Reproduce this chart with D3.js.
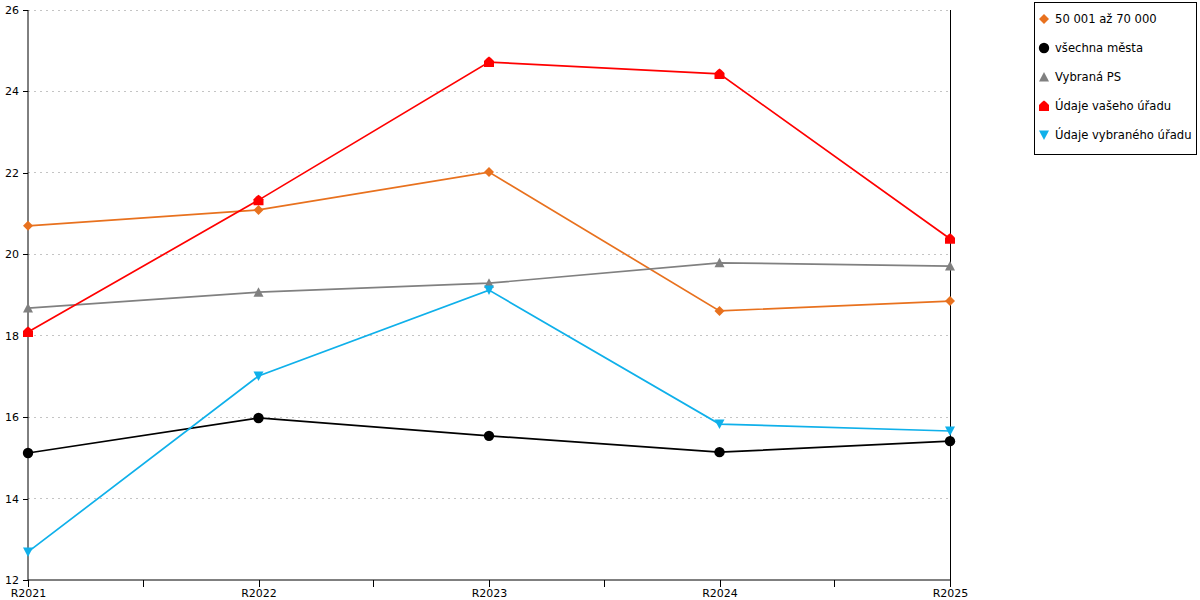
<!DOCTYPE html>
<html>
<head>
<meta charset="utf-8">
<script src="https://d3js.org/d3.v7.min.js"></script>
<style>
  body { margin: 0; background: #fff; }
  text { font-family: "DejaVu Sans", Verdana, sans-serif; }
</style>
</head>
<body>
<script>
// chart data
var years = ["R2021", "R2022", "R2023", "R2024", "R2025"];
var seriesNames = ["50 001 až 70 000", "všechna města", "Vybraná PS", "Údaje vašeho úřadu", "Údaje vybraného úřadu"];
var vals5070 = [20.7, 21.09, 22.02, 18.61, 18.85];
var valsAll = [15.12, 15.98, 15.54, 15.14, 15.41];
var valsPS = [18.68, 19.07, 19.29, 19.79, 19.71];
var valsYours = [18.09, 21.33, 24.72, 24.43, 20.38];
var valsSelected = [12.69, 17.01, 19.12, 15.83, 15.66];
var yTicks = [12, 14, 16, 18, 20, 22, 24, 26];

var colors = ["#e8711e", "#000000", "#808080", "#ff0000", "#0fb0ea"];
var markers = ["diamond", "circle", "up", "house", "down"];
var allVals = [vals5070, valsAll, valsPS, valsYours, valsSelected];

var w = 1200, h = 600;
var pLeft = 28, pRight = 950, pTop = 10, pBottom = 580;

var svg = d3.select("body").append("svg").attr("width", w).attr("height", h);

var x = d3.scalePoint().domain(years).range([pLeft, pRight]);
var y = d3.scaleLinear().domain([12, 26]).range([pBottom, pTop]);

// grid lines
svg.append("g").selectAll("line").data(yTicks.slice(1)).enter().append("line")
  .attr("x1", pLeft).attr("x2", pRight)
  .attr("y1", function(d) { return y(d); }).attr("y2", function(d) { return y(d); })
  .attr("stroke", "#c4c4c4").attr("stroke-dasharray", "2,4").attr("shape-rendering", "crispEdges");

// right border line
svg.append("line").attr("x1", pRight).attr("x2", pRight).attr("y1", pTop).attr("y2", pBottom)
  .attr("stroke", "#000").attr("shape-rendering", "crispEdges");

// y axis
var yAxis = svg.append("g").attr("transform", "translate(" + pLeft + ",0)")
  .call(d3.axisLeft(y).tickValues(yTicks).tickSize(5).tickPadding(4).tickFormat(d3.format("d")));
yAxis.select(".domain").attr("stroke", "#000").attr("d", "M0," + pTop + "V" + pBottom);
yAxis.selectAll("text").attr("font-size", 11).attr("fill", "#000").attr("font-family", "DejaVu Sans");
yAxis.selectAll("line").attr("shape-rendering", "crispEdges");

// x axis with minor ticks in between categories
var xAxis = svg.append("g").attr("transform", "translate(0," + pBottom + ")")
  .call(d3.axisBottom(x).tickSize(7).tickPadding(2));
xAxis.select(".domain").attr("d", "M" + pLeft + ",0H" + pRight);
xAxis.selectAll("text").attr("font-size", 11).attr("fill", "#000").attr("font-family", "DejaVu Sans");
xAxis.selectAll("line").attr("shape-rendering", "crispEdges");
var mids = years.slice(1).map(function(d, i) { return (x(years[i]) + x(d)) / 2; });
xAxis.selectAll(".minor").data(mids).enter().append("line")
  .attr("x1", function(d) { return d; }).attr("x2", function(d) { return d; })
  .attr("y1", 0).attr("y2", 7).attr("stroke", "#000").attr("shape-rendering", "crispEdges");

function markerPath(type) {
  if (type == "diamond") return "M0,-5L5,0L0,5L-5,0Z";
  if (type == "circle") return d3.symbol().type(d3.symbolCircle).size(85)();
  if (type == "up") return "M0,-5L5,4.5L-5,4.5Z";
  if (type == "down") return "M-5,-4.5L5,-4.5L0,5Z";
  // house
  return "M-5,5L-5,-1L-2,-4L0,-5.5L2,-4L5,-1L5,5Z";
}

var line = d3.line()
  .x(function(d, i) { return x(years[i]); })
  .y(function(d) { return y(d); });

allVals.forEach(function(vals, s) {
  var g = svg.append("g");
  g.append("path").datum(vals).attr("d", line)
    .attr("fill", "none").attr("stroke", colors[s]).attr("stroke-width", 1.7);
  g.selectAll("path.m").data(vals).enter().append("path").attr("class", "m")
    .attr("d", markerPath(markers[s]))
    .attr("transform", function(d, i) { return "translate(" + x(years[i]) + "," + y(d) + ")"; })
    .attr("fill", colors[s]);
});

// legend
var leg = svg.append("g");
leg.append("rect").attr("x", 1034.5).attr("y", 2.5).attr("width", 162).attr("height", 152)
  .attr("fill", "#fff").attr("stroke", "#000");
seriesNames.forEach(function(name, s) {
  var ly = 19 + s * 29;
  leg.append("path").attr("d", markerPath(markers[s]))
    .attr("transform", "translate(1044," + ly + ")").attr("fill", colors[s]);
  leg.append("text").attr("x", 1055).attr("y", ly + 4).attr("font-size", 11.6).attr("fill", "#000").text(name);
});
</script>
</body>
</html>
